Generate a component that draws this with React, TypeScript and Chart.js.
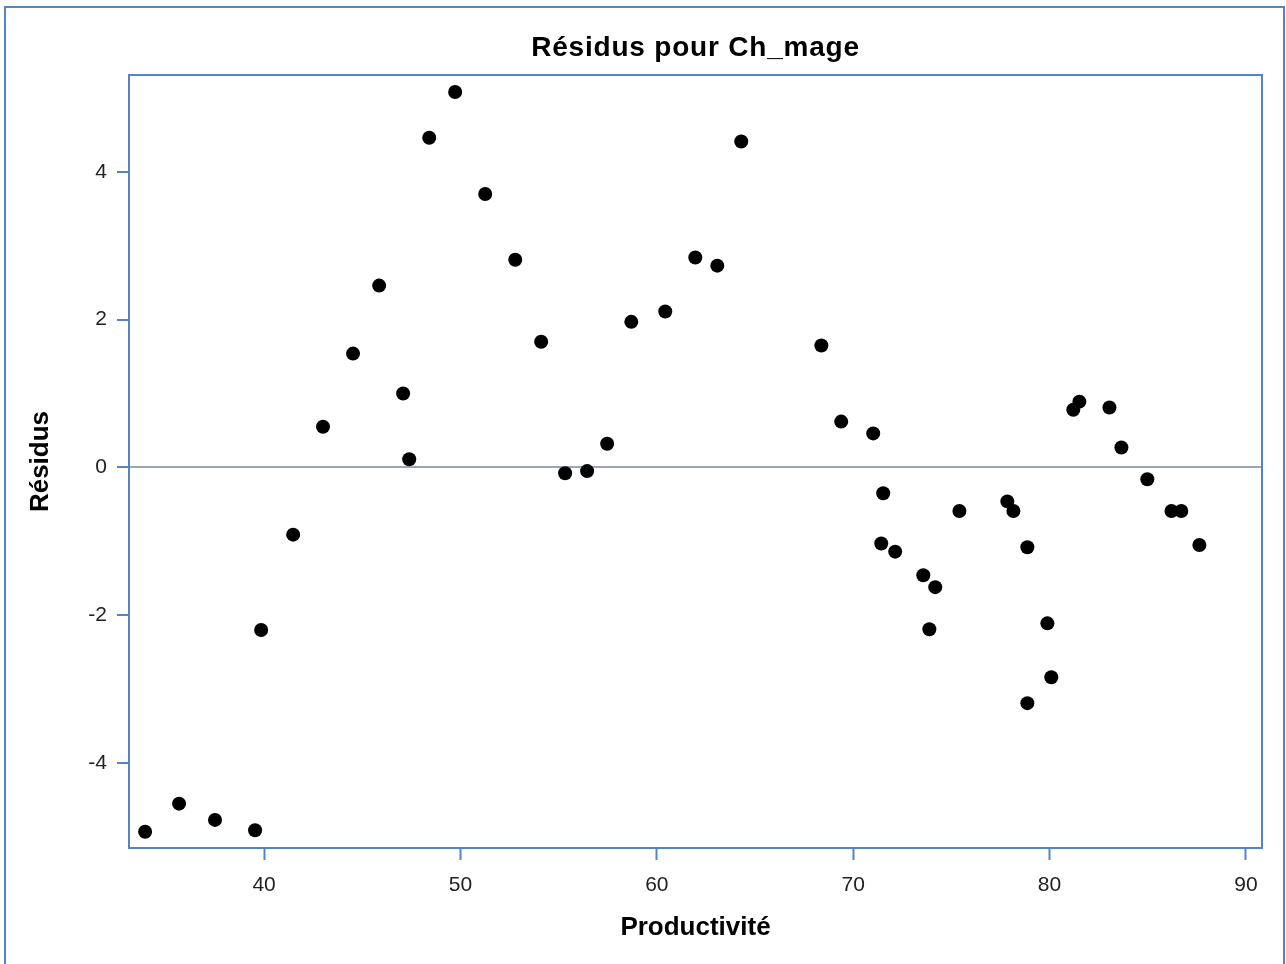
import React, { useEffect, useRef } from "react";
import { Chart, registerables } from "chart.js";

Chart.register(...registerables);

const chartTitle = "Résidus pour Ch_mage";
const xAxisTitle = "Productivité";
const yAxisTitle = "Résidus";

const productivite = [
  33.94, 35.67, 37.5, 39.54, 39.85, 41.48, 43.0, 44.53, 45.86, 47.08,
  47.39, 48.41, 49.73, 51.26, 52.79, 54.11, 55.33, 56.45, 57.47, 58.7,
  60.43, 61.96, 63.08, 64.3, 68.38, 69.39, 71.02, 71.53, 71.43, 72.14,
  73.57, 73.88, 74.18, 75.41, 77.85, 78.16, 78.87, 78.87, 79.89, 80.09,
  81.21, 81.52, 83.05, 83.66, 84.98, 86.21, 86.71, 87.63,
];
const residus = [
  -4.93, -4.55, -4.77, -4.91, -2.2, -0.91, 0.55, 1.54, 2.46, 1.0,
  0.11, 4.46, 5.08, 3.7, 2.81, 1.7, -0.08, -0.05, 0.32, 1.97,
  2.11, 2.84, 2.73, 4.41, 1.65, 0.62, 0.46, -0.35, -1.03, -1.14,
  -1.46, -2.19, -1.62, -0.59, -0.46, -0.59, -1.08, -3.19, -2.11, -2.84,
  0.78, 0.89, 0.81, 0.27, -0.16, -0.59, -0.59, -1.05,
];
const xTickValues = [40, 50, 60, 70, 80, 90];
const yTickValues = [-4, -2, 0, 2, 4];

const FRAME = "#5584c2";
const TICK_FONT = { family: '"Liberation Sans", Arial, sans-serif', size: 21 };
const AXIS_TITLE_FONT = { family: '"Liberation Sans", Arial, sans-serif', size: 26, weight: "bold" as const };

const framePlugin = {
  id: "frames",
  beforeDatasetsDraw(chart: any) {
    const { ctx, chartArea } = chart;
    const { left, top, right, bottom } = chartArea;
    ctx.save();
    ctx.strokeStyle = FRAME;
    ctx.lineWidth = 2;
    ctx.strokeRect(left, top, right - left, bottom - top);
    ctx.strokeRect(5, 7, 1279, 975);
    ctx.font = 'bold 28px "Liberation Sans", Arial, sans-serif';
    try { (ctx as any).letterSpacing = "0.8px"; } catch (e) {}
    ctx.fillStyle = "#000";
    ctx.textAlign = "center";
    ctx.textBaseline = "alphabetic";
    ctx.fillText(chartTitle, (left + right) / 2, 56);
    try { (ctx as any).letterSpacing = "0px"; } catch (e) {}
    ctx.restore();
  },
};

export default function App() {
  const ref = useRef<HTMLCanvasElement | null>(null);
  useEffect(() => {
    if (!ref.current) return;
    const chart = new Chart(ref.current, {
      type: "scatter",
      data: {
        datasets: [
          {
            data: productivite.map((x, i) => ({ x, y: residus[i] })),
            backgroundColor: "#000",
            borderWidth: 0,
            pointRadius: 7,
            pointHoverRadius: 7,
          },
        ],
      },
      options: {
        animation: false,
        responsive: false,
        events: [],
        layout: { padding: { left: 0, top: 75, right: 24, bottom: 0 } },
        plugins: { legend: { display: false }, tooltip: { enabled: false }, title: { display: false } },
        scales: {
          x: {
            type: "linear",
            min: 33.12,
            max: 90.82,
            afterFit: (s: any) => { s.height = 116; },
            afterBuildTicks: (s: any) => { s.ticks = xTickValues.map((v) => ({ value: v })); },
            border: { display: false },
            grid: { drawOnChartArea: false, tickLength: 12, tickColor: FRAME, tickWidth: 2 },
            ticks: { color: "#222", font: TICK_FONT, padding: 13, maxRotation: 0 },
            title: { display: true, text: xAxisTitle, color: "#000", font: AXIS_TITLE_FONT, padding: { top: 0, bottom: 21 } },
          },
          y: {
            type: "linear",
            min: -5.15,
            max: 5.31,
            afterFit: (s: any) => { s.width = 129; },
            afterBuildTicks: (s: any) => { s.ticks = yTickValues.map((v) => ({ value: v })); },
            border: { display: false },
            grid: {
              drawOnChartArea: true,
              color: (c: any) => (c.tick && c.tick.value === 0 ? "rgb(150,168,192)" : "rgba(0,0,0,0)"),
              lineWidth: 2,
              tickLength: 12,
              tickColor: FRAME,
              tickWidth: 2,
            },
            ticks: { color: "#222", font: TICK_FONT, padding: 10 },
            title: { display: true, text: yAxisTitle, color: "#000", font: AXIS_TITLE_FONT, padding: { top: 25, bottom: 0 } },
          },
        },
      },
      plugins: [framePlugin],
    });
    return () => chart.destroy();
  }, []);
  return (
    <div style={{ position: "absolute", left: 0, top: 0, width: 1286, height: 964, background: "#fff" }}>
      <canvas ref={ref} width={1286} height={964} style={{ display: "block" }} />
    </div>
  );
}
